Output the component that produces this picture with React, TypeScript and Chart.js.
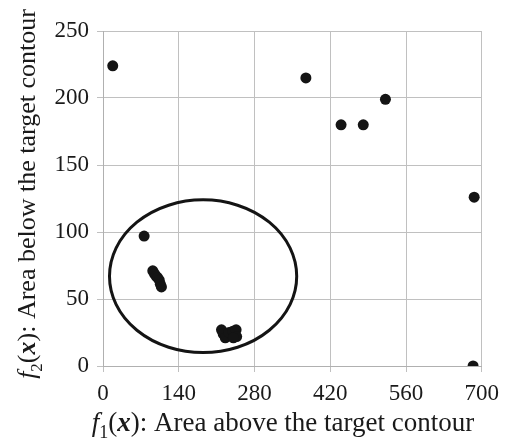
import React, { useEffect, useRef } from "react";
import { Chart, registerables } from "chart.js";

Chart.register(...registerables);

const xValues = [18, 375, 440, 481, 522, 686, 684, 76, 92, 95, 98, 101, 104, 106, 108, 219, 222, 226, 233, 240, 246, 247, 241];
const yValues = [224, 215, 180, 180, 199, 126, 0, 97, 71, 69, 67, 66, 64, 61, 59, 27, 24, 21, 25, 26, 27, 22, 21];

const xTicks = [0, 140, 280, 420, 560, 700];
const yTicks = [0, 50, 100, 150, 200, 250];

// Highlighted region (ellipse) in data units
const ellipseCenter = [185, 67];
const ellipseRadii = [173, 57];

const xTitleParts: [string, string][] = [
  ["f", "italic"],
  ["1", "sub"],
  ["(", "normal"],
  ["x", "bolditalic"],
  ["): Area above the target contour", "normal"],
];
const yTitleParts: [string, string][] = [
  ["f", "italic"],
  ["2", "sub"],
  ["(", "normal"],
  ["x", "bolditalic"],
  ["): Area below the target contour", "normal"],
];

const FAMILY = '"Liberation Serif", "Times New Roman", serif';

function fontFor(kind: string, size: number) {
  if (kind === "italic") return `italic ${size}px ${FAMILY}`;
  if (kind === "bolditalic") return `italic bold ${size}px ${FAMILY}`;
  if (kind === "sub") return `${Math.round(size * 0.65)}px ${FAMILY}`;
  return `${size}px ${FAMILY}`;
}

function drawParts(ctx: CanvasRenderingContext2D, parts: [string, string][], size: number, cx: number, baseline: number) {
  let total = 0;
  const widths = parts.map(([t, k]) => {
    ctx.font = fontFor(k, size);
    const w = ctx.measureText(t).width;
    total += w;
    return w;
  });
  let x = cx - total / 2;
  ctx.textBaseline = "alphabetic";
  ctx.textAlign = "left";
  parts.forEach(([t, k], i) => {
    ctx.font = fontFor(k, size);
    ctx.fillText(t, x, k === "sub" ? baseline + size * 0.25 : baseline);
    x += widths[i];
  });
}

const extrasPlugin = {
  id: "extras",
  beforeDraw(chart: any) {
    const { ctx } = chart;
    ctx.save();
    ctx.fillStyle = "#ffffff";
    ctx.fillRect(0, 0, chart.width, chart.height);
    ctx.restore();
  },
  afterDatasetsDraw(chart: any) {
    const { ctx, scales } = chart;
    const xs = scales.x;
    const ys = scales.y;
    const cx = xs.getPixelForValue(ellipseCenter[0]);
    const cy = ys.getPixelForValue(ellipseCenter[1]);
    const rx = Math.abs(xs.getPixelForValue(ellipseCenter[0] + ellipseRadii[0]) - cx);
    const ry = Math.abs(ys.getPixelForValue(ellipseCenter[1] + ellipseRadii[1]) - cy);
    ctx.save();
    ctx.beginPath();
    ctx.ellipse(cx, cy, rx, ry, 0, 0, Math.PI * 2);
    ctx.lineWidth = 3;
    ctx.strokeStyle = "#141414";
    ctx.stroke();
    ctx.restore();

    // Axis titles
    ctx.save();
    ctx.fillStyle = "#1a1a1a";
    drawParts(ctx, xTitleParts, 27, 283, 431);
    ctx.translate(35, 194);
    ctx.rotate(-Math.PI / 2);
    drawParts(ctx, yTitleParts, 26, 0, 0);
    ctx.restore();
  },
};

export default function App() {
  const ref = useRef<HTMLCanvasElement>(null);
  useEffect(() => {
    if (!ref.current) return;
    const chart = new Chart(ref.current, {
      type: "scatter",
      data: {
        datasets: [
          {
            data: xValues.map((x, i) => ({ x, y: yValues[i] })),
            backgroundColor: "#141414",
            borderColor: "#141414",
            pointRadius: 5.5,
            pointHoverRadius: 5.5,
            borderWidth: 0,
          },
        ],
      },
      options: {
        animation: false,
        responsive: false,
        layout: { padding: { top: 31, right: 24, left: 0, bottom: 0 } },
        plugins: { legend: { display: false }, tooltip: { enabled: false } },
        scales: {
          x: {
            type: "linear",
            min: 0,
            max: 700,
            afterBuildTicks: (s: any) => { s.ticks = xTicks.map((v) => ({ value: v })); },
            afterFit: (s: any) => { s.height = 75; },
            ticks: { color: "#1a1a1a", font: { family: FAMILY, size: 23 }, padding: 8, maxRotation: 0 },
            grid: { color: "#c0c0c0", lineWidth: 1, tickLength: 6 },
            border: { color: "#b0b0b0" },
          },
          y: {
            type: "linear",
            min: 0,
            max: 250,
            afterBuildTicks: (s: any) => { s.ticks = yTicks.map((v) => ({ value: v })); },
            afterFit: (s: any) => { s.width = 103; },
            ticks: { color: "#1a1a1a", font: { family: FAMILY, size: 23 }, padding: 8 },
            grid: { color: "#c0c0c0", lineWidth: 1, tickLength: 6 },
            border: { color: "#b0b0b0" },
          },
        },
      },
      plugins: [extrasPlugin],
    });
    return () => chart.destroy();
  }, []);
  return (
    <div style={{ position: "absolute", left: 0, top: 0, width: 507, height: 441 }}>
      <canvas ref={ref} width={507} height={441} />
    </div>
  );
}
